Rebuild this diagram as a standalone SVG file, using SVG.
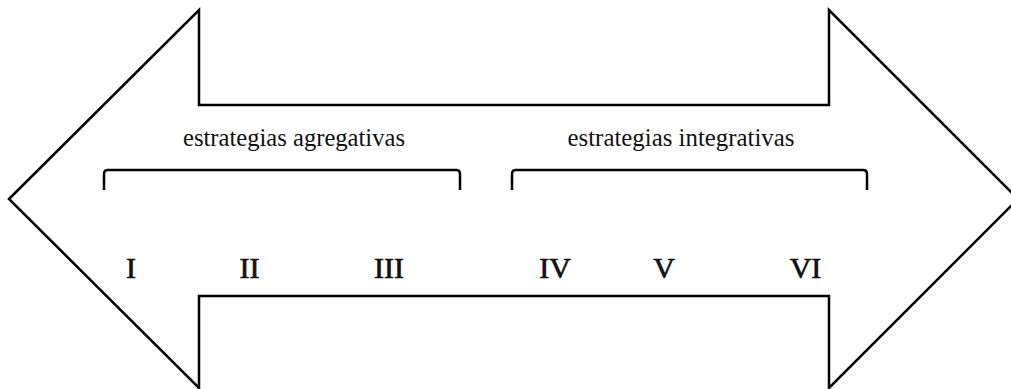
<svg xmlns="http://www.w3.org/2000/svg" width="1011" height="389" viewBox="0 0 1011 389">
<style>
.ln{fill:none;stroke:#000;stroke-width:2.5;stroke-linejoin:miter}
.lbl{font-family:"Liberation Serif","Times New Roman",serif;font-size:25px;fill:#111;text-anchor:middle}
.num{font-family:"Liberation Serif","Times New Roman",serif;font-size:30px;fill:#111;stroke:#111;stroke-width:0.7;text-anchor:middle}
</style>
<rect width="1011" height="389" fill="#fff"/>
<g id="arrow">
<path class="ln" d="M9,199 L199,10 L199,105 L829,105 L829,10 L1018,199 L829,388 L829,296 L199,296 L199,388 Z"/>
</g>
<g id="group-agregativas">
<text class="lbl" x="294" y="146" textLength="222" lengthAdjust="spacingAndGlyphs">estrategias agregativas</text>
<path class="ln" d="M104,190 V174 Q104,170 108,170 H456 Q460,170 460,174 V190"/>
</g>
<g id="group-integrativas">
<text class="lbl" x="681" y="146" textLength="227" lengthAdjust="spacingAndGlyphs">estrategias integrativas</text>
<path class="ln" d="M512,190 V174 Q512,170 516,170 H863 Q867,170 867,174 V190"/>
</g>
<g id="stages">
<text class="num" x="131" y="278">I</text>
<text class="num" x="249.5" y="278">II</text>
<text class="num" x="389" y="278">III</text>
<text class="num" x="555" y="278">IV</text>
<text class="num" x="664" y="278">V</text>
<text class="num" x="805.5" y="278">VI</text>
</g>
</svg>
